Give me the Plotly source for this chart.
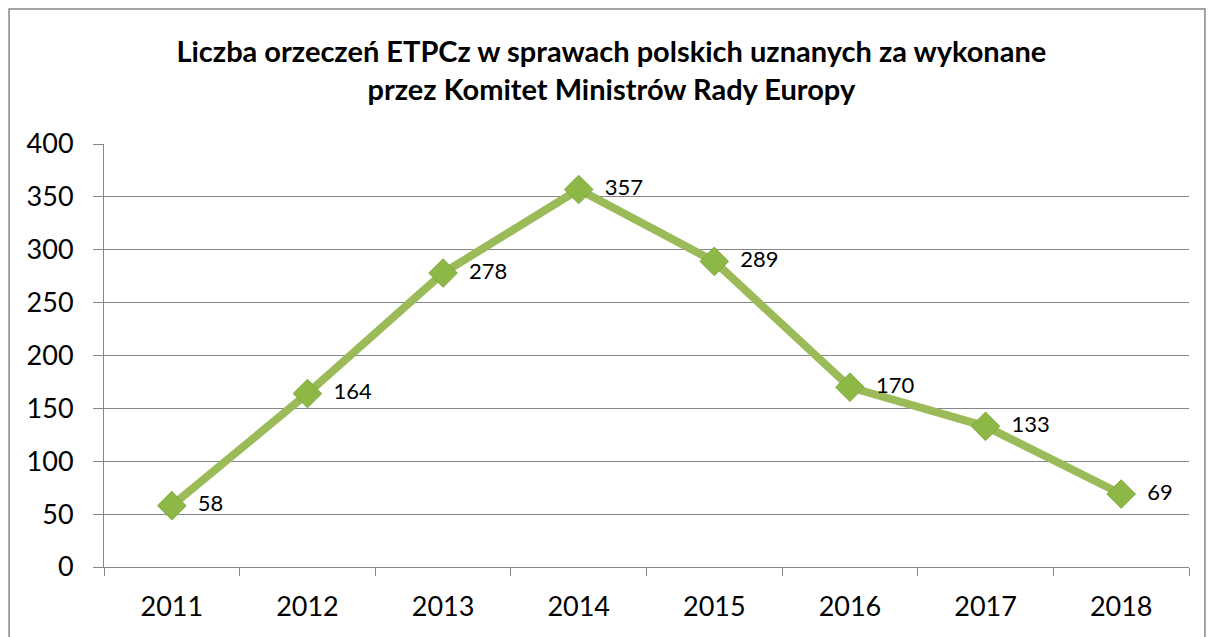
import plotly.graph_objects as go

years = ["2011", "2012", "2013", "2014", "2015", "2016", "2017", "2018"]
values = [58, 164, 278, 357, 289, 170, 133, 69]
y_ticks = [0, 50, 100, 150, 200, 250, 300, 350, 400]

title_text = ("<b>Liczba orzeczeń ETPCz w sprawach polskich uznanych za wykonane<br>"
              "przez Komitet Ministrów Rady Europy</b>")

fig = go.Figure()
fig.add_trace(go.Scatter(
    x=years,
    y=values,
    mode="lines+markers+text",
    text=[f"  {v}" for v in values],
    textposition="middle right",
    textfont=dict(size=22, color="#000000", family="Lato"),
    line=dict(color="#9BBB59", width=8),
    marker=dict(symbol="diamond", size=22, color="#8DB846",
                line=dict(color="#7FA83C", width=1)),
    cliponaxis=False,
))

# page is shown with an 8px body margin, so the figure is offset by 8px
fig.update_layout(
    width=1214,
    height=637,
    paper_bgcolor="white",
    plot_bgcolor="white",
    showlegend=False,
    margin=dict(l=96, r=33, t=136, b=78),
    title=dict(text=title_text, x=0.497, xanchor="center", y=0.915, yanchor="top",
               font=dict(size=29, color="#000000", family="Lato")),
    font=dict(family="Lato", color="#000000"),
)

fig.update_xaxes(
    type="category",
    range=[-0.5, 7.5],
    showgrid=False,
    showline=True, linecolor="#868686", linewidth=1,
    ticks="outside", ticklen=8, tickcolor="#868686",
    tickson="boundaries",
    tickfont=dict(size=27),
    ticklabelstandoff=16,
)
fig.update_yaxes(
    range=[0, 400],
    tickvals=y_ticks,
    showgrid=True, gridcolor="#868686", gridwidth=1,
    showline=True, linecolor="#868686", linewidth=1,
    ticks="outside", ticklen=10, tickcolor="#868686",
    tickfont=dict(size=27),
    ticklabelstandoff=14,
    zeroline=False,
)

# chart area border
fig.add_shape(type="rect", xref="paper", yref="paper",
              x0=-0.0875, x1=1.0147, y0=-0.2, y1=1.319,
              line=dict(color="#868686", width=1.5), fillcolor="rgba(0,0,0,0)",
              layer="below")

fig.write_html("out.html")
